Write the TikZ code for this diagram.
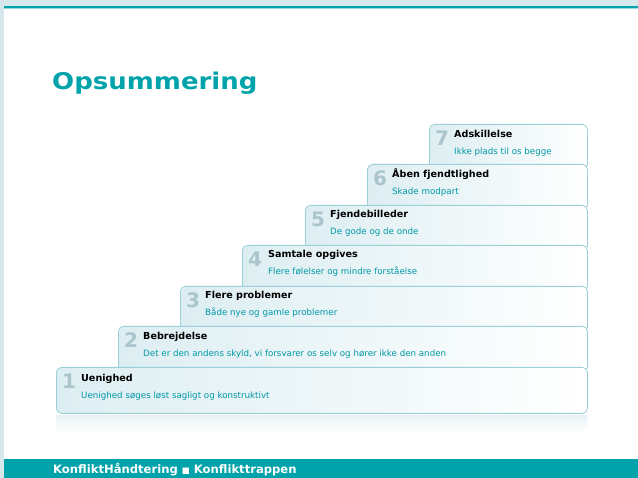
\documentclass[tikz,border=0pt]{standalone}
\usepackage{fontspec}
\usepackage{graphicx}
\setmainfont{DejaVu Sans}
\usetikzlibrary{positioning}
\definecolor{kteal}{HTML}{00A3AA}
\definecolor{kframe}{HTML}{D6E8EC}
\definecolor{kfill}{HTML}{DDEEF2}
\definecolor{kedge}{HTML}{9CD0D8}
\definecolor{knum}{HTML}{AAC6CC}
\definecolor{ksub}{HTML}{0098A6}
\tikzset{stepbox/.style={shape=rectangle, rounded corners=5pt, draw=kedge,
    line width=.8pt, left color=kfill, right color=white, anchor=north west,
    minimum height=46pt, inner sep=0pt}}
\tikzset{stepnum/.style={font=\fontsize{20}{20}\selectfont\bfseries,
    text=knum, anchor=base west, inner sep=0pt}}
\tikzset{steptitle/.style={font=\fontsize{9.6}{10}\selectfont\bfseries,
    anchor=base west, inner sep=0pt}}
\tikzset{steptext/.style={font=\fontsize{8.7}{9}\selectfont, text=ksub,
    anchor=base west, inner sep=0pt}}

\begin{document}
\begin{tikzpicture}[x=1pt, y=-1pt]
    \useasboundingbox (0,0) rectangle (638,478);
    % frame
    \fill[kframe] (0,0) rectangle (638,478);
    \fill[white] (4,9) rectangle (638,459);
    \fill[kteal] (4,6) rectangle (638,8.3);
    \fill[kteal!40] (4,8.3) rectangle (638,9.5);
    \fill[kteal] (4,459) rectangle (638,478);
    \node[anchor=base west, inner sep=0pt, text=kteal,
      font=\fontsize{23}{23}\selectfont\bfseries] (title) at (52,90)
      {\scalebox{1.13}[1]{Opsummering}};
    % reflection under the lowest step
    \fill[top color=kfill!70, bottom color=white] (56,416) rectangle (587,432);
    % steps, top one first
    \node[stepbox, minimum width=158pt] (s7) at (429,124) {};
    \node[stepnum] (n7) at (435,146) {7};
    \node[steptitle] (t7) at (454,138) {Adskillelse};
    \node[steptext] (d7) at (454,155) {Ikke plads til os begge};
    \node[stepbox, minimum width=220pt] (s6) at (367,164) {};
    \node[stepnum] (n6) at (373,186) {6};
    \node[steptitle] (t6) at (392,178) {Åben fjendtlighed};
    \node[steptext] (d6) at (392,195) {Skade modpart};
    \node[stepbox, minimum width=282pt] (s5) at (305,205) {};
    \node[stepnum] (n5) at (311,227) {5};
    \node[steptitle] (t5) at (330,218) {Fjendebilleder};
    \node[steptext] (d5) at (330,235) {De gode og de onde};
    \node[stepbox, minimum width=345pt] (s4) at (242,245) {};
    \node[stepnum] (n4) at (248,267) {4};
    \node[steptitle] (t4) at (268,258) {Samtale opgives};
    \node[steptext] (d4) at (268,275) {Flere følelser og mindre forståelse};
    \node[stepbox, minimum width=407pt] (s3) at (180,286) {};
    \node[stepnum] (n3) at (186,308) {3};
    \node[steptitle] (t3) at (205,299) {Flere problemer};
    \node[steptext] (d3) at (205,316) {Både nye og gamle problemer};
    \node[stepbox, minimum width=469pt] (s2) at (118,326) {};
    \node[stepnum] (n2) at (124,348) {2};
    \node[steptitle] (t2) at (143,340) {Bebrejdelse};
    \node[steptext] (d2) at (143,357) {Det er den andens skyld, vi forsvarer os selv og hører ikke den anden};
    \node[stepbox, minimum width=531pt] (s1) at (56,367) {};
    \node[stepnum] (n1) at (62,389) {1};
    \node[steptitle] (t1) at (81,382) {Uenighed};
    \node[steptext] (d1) at (81,399) {Uenighed søges løst sagligt og konstruktivt};
    % footer
    \node[anchor=base west, inner sep=0pt, text=white,
      font=\fontsize{11.6}{12}\selectfont\bfseries] (foot) at (53,474)
      {KonfliktHåndtering {\fontsize{8.5}{9}\selectfont■} Konflikttrappen};
\end{tikzpicture}
\end{document}
